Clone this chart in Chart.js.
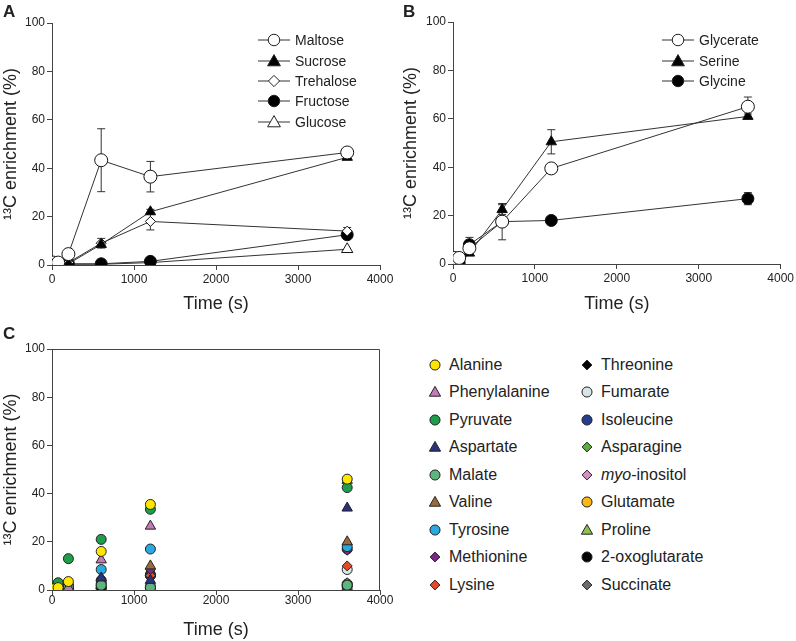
<!DOCTYPE html>
<html lang="en">
<head>
<meta charset="UTF-8">
<title>13C enrichment time course</title>
<script src="https://cdn.jsdelivr.net/npm/chart.js"></script>
<style>
  body { margin: 0; background: #fff; font-family: 'Liberation Sans', Arial, sans-serif; color: #222; }
  #page { position: relative; width: 796px; height: 641px; overflow: hidden; }
  canvas { position: absolute; }
  .tag { position: absolute; font-weight: bold; font-size: 17px; line-height: 1; }
  .lg { position: absolute; font-size: 14px; }
  .lg .row { height: 20.4px; display: flex; align-items: center; white-space: nowrap; }
  .lg svg { margin-right: 5px; }
  .lgc { position: absolute; font-size: 16px; }
  .lgc .row { height: 27.5px; display: flex; align-items: center; white-space: nowrap; }
  .lgc svg { margin-right: 7px; }
</style>
</head>
<body>
<div id="page">
  <canvas id="chartA" width="400" height="320" style="left:0;top:0"></canvas>
  <canvas id="chartB" width="396" height="320" style="left:400px;top:0"></canvas>
  <canvas id="chartC" width="400" height="321" style="left:0;top:320px"></canvas>
  <div class="tag" style="left:3px;top:3px">A</div>
  <div class="tag" style="left:403px;top:3px">B</div>
  <div class="tag" style="left:3px;top:325px">C</div>
  <div class="lg" id="legendA" style="left:258px;top:30px"></div>
  <div class="lg" id="legendB" style="left:662px;top:30px"></div>
  <div class="lgc" id="legendC1" style="left:428px;top:351px"></div>
  <div class="lgc" id="legendC2" style="left:580px;top:351px"></div>
</div>

<script>
  // sampling times (s)
  const times = [15, 75, 200, 600, 1200, 3600];

  // panel A - sugars
  const sugarNames = ['Maltose', 'Sucrose', 'Trehalose', 'Fructose', 'Glucose'];
  const maltose   = [1, 1, 4.5, 43.3, 36.5, 46.5];
  const maltoseErr = [0, 0, 0, 13, 6.3, 0.5];
  const sucrose   = [0, 0, 0.5, 8.5, 22, 44.5];
  const sucroseErr = [0, 0, 0, 0.5, 1, 0.5];
  const trehalose = [0, 0.3, 1, 9, 18, 14];
  const trehaloseErr = [0, 0, 0, 2, 3.5, 1.5];
  const fructose  = [0, 0, 0.5, 0.5, 1.5, 12.5];
  const fructoseErr = [0, 0, 0, 0, 0, 1];
  const glucose   = [0, 0, 0.3, 0.3, 1, 6.5];
  const glucoseErr = [0, 0, 0, 0, 0, 0];

  // panel B - photorespiratory intermediates
  const prNames = ['Glycerate', 'Serine', 'Glycine'];
  const glycerate = [2.5, 2.5, 6.5, 17.5, 39.5, 65];
  const glycerateErr = [0, 0, 2, 7.5, 1, 4];
  const serine    = [0, 0, 4.5, 22.5, 50.5, 61];
  const serineErr = [0, 0, 0, 2, 5, 1];
  const glycine   = [0, 0.5, 8, 17.5, 18, 27];
  const glycineErr = [0, 0, 3, 0, 1, 2.5];

  // panel C - other metabolites
  const metNames = ['Alanine', 'Phenylalanine', 'Pyruvate', 'Aspartate', 'Malate', 'Valine', 'Tyrosine', 'Methionine', 'Lysine',
                    'Threonine', 'Fumarate', 'Isoleucine', 'Asparagine', 'myo-inositol', 'Glutamate', 'Proline', '2-oxoglutarate', 'Succinate'];
  const metColors = ['#ffe600', '#c27bb4', '#1e9e4a', '#2b3181', '#5db67d', '#9a6a3c', '#28a9e1', '#7a2a86', '#e8472a',
                     '#000000', '#d6e6e6', '#283c8e', '#5fae3b', '#d890c6', '#fdb813', '#8cc151', '#000000', '#6b6b6b'];
  const metShapes = ['circle', 'triangle', 'circle', 'triangle', 'circle', 'triangle', 'circle', 'rectRot', 'rectRot',
                     'rectRot', 'circle', 'circle', 'rectRot', 'rectRot', 'circle', 'triangle', 'circle', 'rectRot'];
  const metValues = [
    [0.5, 1, 3.5, 16, 35.5, 46],     // Alanine
    [0, 0.5, 1, 12.5, 26.5, 45.5],   // Phenylalanine
    [0.5, 3, 13, 21, 33.5, 42.5],    // Pyruvate
    [0, 0.5, 0.5, 5, 4, 34],         // Aspartate
    [0.5, 2.5, 1, 2, 1, 2],          // Malate
    [0, 0.5, 0.5, 4, 10, 20],        // Valine
    [0.5, 1, 1.5, 8.5, 17, 18],      // Tyrosine
    [0.5, 0.5, 0.5, 3, 8.5, 16.5],   // Methionine
    [0, 0.3, 0.3, 2, 6, 10],         // Lysine
    [0, 0, 0, 0.5, 0.5, 1.5],        // Threonine
    [0, 0.3, 0.3, 0.5, 1.5, 8.5],    // Fumarate
    [0, 0.3, 0.5, 4, 6, 17],         // Isoleucine
    [0, 0, 0, 0.5, 0.5, 3],          // Asparagine
    [0.5, 0.5, 0.5, 1, 1, 2],        // myo-inositol
    [0.5, 1, 2, 2, 6.5, 2.5],        // Glutamate
    [0, 0, 0, 0, 0, 1.5],            // Proline
    [0, 0.5, 0.5, 1, 6, 2],          // 2-oxoglutarate
    [0, 0, 0, 0, 0, 1]               // Succinate
  ];

  const yTicks = [0, 20, 40, 60, 80, 100];
  const xTicks = [0, 1000, 2000, 3000, 4000];

  const ink = '#222';
  const pts = vals => times.map((t, i) => ({ x: t, y: vals[i] }));

  function series(label, vals, err, shape, fill, r) {
    return {
      label, data: pts(vals), err,
      borderColor: '#333', borderWidth: 1,
      pointStyle: shape, pointRadius: r, pointBorderWidth: 1,
      pointBackgroundColor: fill, pointBorderColor: '#111',
      tension: 0
    };
  }

  function axes(yWidth, xHeight, xTickPad, xTitleBottom) {
    return {
      x: {
        type: 'linear', min: xTicks[0], max: xTicks[xTicks.length - 1],
        afterBuildTicks: s => { s.ticks = xTicks.map(v => ({ value: v })); },
        ticks: { color: ink, font: { size: 12 }, padding: xTickPad, maxRotation: 0, callback: v => String(v) },
        grid: { drawOnChartArea: false, tickLength: 5, color: '#444' },
        border: { color: '#444', width: 1 },
        title: { display: true, text: 'Time (s)', color: ink, font: { size: 18 }, padding: { top: 3, bottom: xTitleBottom } },
        afterFit: s => { s.height = xHeight; }
      },
      y: {
        type: 'linear', min: 0, max: 100,
        afterBuildTicks: s => { s.ticks = yTicks.map(v => ({ value: v })); },
        ticks: { color: ink, font: { size: 12 }, padding: 2, callback: v => String(v) },
        grid: { drawOnChartArea: false, tickLength: 5, color: '#444' },
        border: { color: '#444', width: 1 },
        title: { display: true, text: '\u00b9\u00b3C enrichment (%)', color: ink, font: { size: 18 }, padding: { top: 0, bottom: 2 } },
        afterFit: s => { s.width = yWidth; }
      }
    };
  }

  // vertical error bars with caps, drawn under the markers
  const errorBars = {
    id: 'errorBars',
    beforeDatasetsDraw(chart) {
      const { ctx, scales: { x, y } } = chart;
      ctx.save();
      ctx.strokeStyle = '#333';
      ctx.lineWidth = 1;
      chart.data.datasets.forEach(ds => {
        if (!ds.err) return;
        ds.data.forEach((p, i) => {
          const e = ds.err[i];
          if (!e) return;
          const px = x.getPixelForValue(p.x);
          const top = y.getPixelForValue(p.y + e);
          const bot = y.getPixelForValue(p.y - e);
          ctx.beginPath();
          ctx.moveTo(px, top); ctx.lineTo(px, bot);
          ctx.moveTo(px - 4, top); ctx.lineTo(px + 4, top);
          ctx.moveTo(px - 4, bot); ctx.lineTo(px + 4, bot);
          ctx.stroke();
        });
      });
      ctx.restore();
    }
  };

  const frame = {
    id: 'frame',
    afterDraw(chart) {
      const { ctx, chartArea: a } = chart;
      ctx.save();
      ctx.strokeStyle = '#444';
      ctx.lineWidth = 1;
      ctx.beginPath();
      ctx.moveTo(a.left, a.top + 0.5); ctx.lineTo(a.right - 0.5, a.top + 0.5); ctx.lineTo(a.right - 0.5, a.bottom);
      ctx.stroke();
      ctx.restore();
    }
  };

  const common = {
    responsive: false,
    animation: false,
    devicePixelRatio: 1,
    plugins: { legend: { display: false }, tooltip: { enabled: false } }
  };

  new Chart(document.getElementById('chartA'), {
    type: 'line',
    data: {
      datasets: [
        series(sugarNames[0], maltose, maltoseErr, 'circle', '#fff', 6.5),
        series(sugarNames[1], sucrose, sucroseErr, 'triangle', '#000', 6),
        series(sugarNames[2], trehalose, trehaloseErr, 'rectRot', '#fff', 5),
        series(sugarNames[3], fructose, fructoseErr, 'circle', '#000', 6),
        series(sugarNames[4], glucose, glucoseErr, 'triangle', '#fff', 6.5)
      ]
    },
    options: Object.assign({}, common, {
      layout: { padding: { left: 0, right: 20, top: 23, bottom: 0 } },
      scales: axes(52, 55, 2, 5)
    }),
    plugins: [errorBars]
  });

  new Chart(document.getElementById('chartB'), {
    type: 'line',
    data: {
      datasets: [
        series(prNames[0], glycerate, glycerateErr, 'circle', '#fff', 6.5),
        series(prNames[1], serine, serineErr, 'triangle', '#000', 6),
        series(prNames[2], glycine, glycineErr, 'circle', '#000', 6)
      ]
    },
    options: Object.assign({}, common, {
      layout: { padding: { left: 0, right: 15, top: 22, bottom: 0 } },
      scales: axes(53, 56, 2, 5)
    }),
    plugins: [errorBars]
  });

  new Chart(document.getElementById('chartC'), {
    type: 'scatter',
    data: {
      datasets: metNames.map((name, k) => ({
        label: name,
        data: pts(metValues[k]),
        pointStyle: metShapes[k],
        pointRadius: metShapes[k] === 'triangle' ? 6 : 5,
        pointBackgroundColor: metColors[k],
        pointBorderColor: '#222',
        pointBorderWidth: 1,
        showLine: false
      }))
    },
    options: Object.assign({}, common, {
      layout: { padding: { left: 0, right: 20, top: 29, bottom: 0 } },
      scales: axes(52, 51, -2, 0)
    }),
    plugins: [frame]
  });

  // legends
  function marker(shape, fill, size) {
    const c = size / 2;
    let m;
    if (shape === 'circle') m = `<circle cx="${c}" cy="${c}" r="${c * 0.72}" />`;
    else if (shape === 'triangle') m = `<polygon points="${c},${c - c * 0.8} ${c + c * 0.8},${c + c * 0.6} ${c - c * 0.8},${c + c * 0.6}" />`;
    else m = `<polygon points="${c},${c - c * 0.7} ${c + c * 0.7},${c} ${c},${c + c * 0.7} ${c - c * 0.7},${c}" />`;
    return m.replace('/>', `fill="${fill}" stroke="#222" stroke-width="1" />`);
  }

  function lineLegend(id, names, shapes, fills) {
    const el = document.getElementById(id);
    names.forEach((n, i) => {
      const svg = `<svg width="32" height="16"><line x1="0" y1="8" x2="32" y2="8" stroke="#333" stroke-width="1" />` +
        `<g transform="translate(8,0)">${marker(shapes[i], fills[i], 16)}</g></svg>`;
      el.insertAdjacentHTML('beforeend', `<div class="row">${svg}<span>${n}</span></div>`);
    });
  }
  lineLegend('legendA', sugarNames, ['circle', 'triangle', 'rectRot', 'circle', 'triangle'], ['#fff', '#000', '#fff', '#000', '#fff']);
  lineLegend('legendB', prNames, ['circle', 'triangle', 'circle'], ['#fff', '#000', '#000']);

  metNames.forEach((n, k) => {
    const el = document.getElementById(k < 9 ? 'legendC1' : 'legendC2');
    const label = n.startsWith('myo') ? '<i>myo</i>' + n.slice(3) : n;
    el.insertAdjacentHTML('beforeend',
      `<div class="row"><svg width="14" height="14">${marker(metShapes[k], metColors[k], 14)}</svg><span>${label}</span></div>`);
  });
</script>
</body>
</html>
